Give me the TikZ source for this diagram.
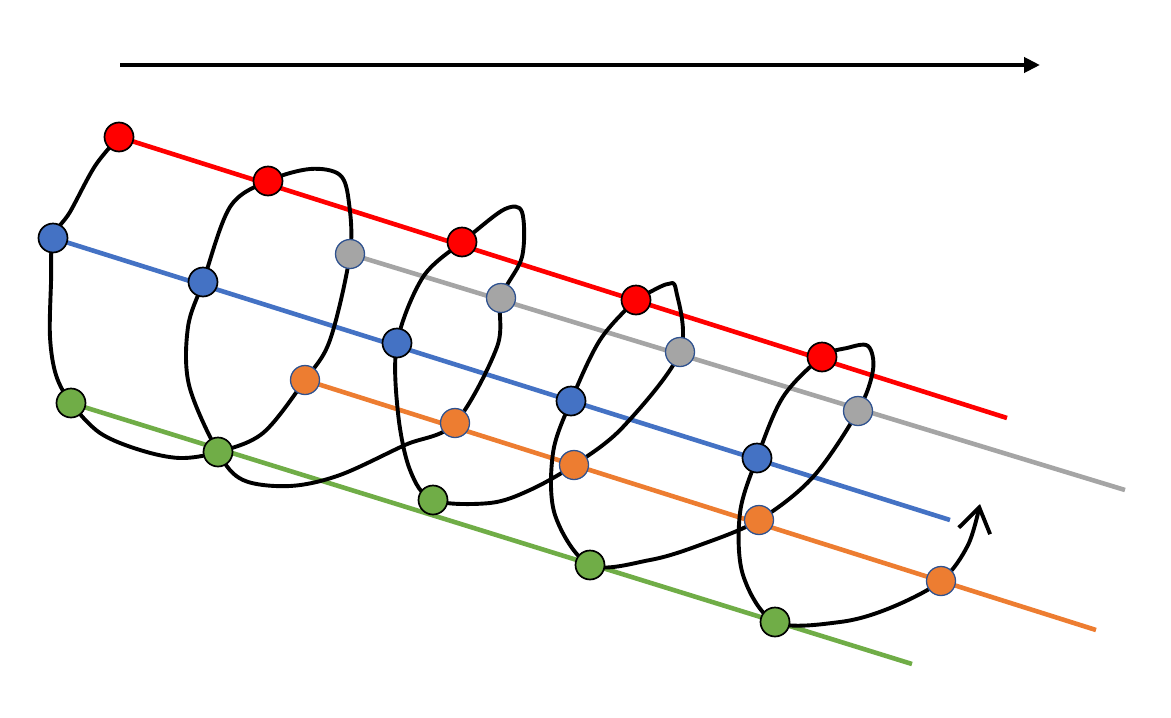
\documentclass[tikz,border=0pt]{standalone}
\usetikzlibrary{arrows.meta,backgrounds}
\definecolor{myred}{HTML}{FF0000}
\definecolor{myblue}{HTML}{4472C4}
\definecolor{mygray}{HTML}{A5A5A5}
\definecolor{myorange}{HTML}{ED7D31}
\definecolor{mygreen}{HTML}{70AD47}
\definecolor{rim}{HTML}{2F528F}

\begin{document}
\begin{tikzpicture}[x=1pt, y=-1pt,
	dot/.style={circle, draw=black, line width=1.7pt, minimum size=29pt, inner sep=0pt},
	softdot/.style={dot, draw=rim, line width=1.3pt},
	track/.style={line width=4.6pt},
	spiral/.style={line width=3.9pt, line join=round, line cap=round}]

	\useasboundingbox (0,0) rectangle (1171,718);

	\coordinate (axisstart) at (120,65);
	\coordinate (axisend) at (1040,65);
	\draw[line width=4.3pt, -{Triangle[length=16pt,width=15pt]}] (axisstart) -- (axisend);

	\node[dot, fill=myred] (red1) at (119,137) {};
	\node[dot, fill=myred] (red2) at (268,181) {};
	\node[dot, fill=myred] (red3) at (462,242) {};
	\node[dot, fill=myred] (red4) at (636,300) {};
	\node[dot, fill=myred] (red5) at (822,357) {};

	\node[softdot, fill=mygray] (gray1) at (350,254) {};
	\node[softdot, fill=mygray] (gray2) at (501,298) {};
	\node[softdot, fill=mygray] (gray3) at (680,352) {};
	\node[softdot, fill=mygray] (gray4) at (858,411) {};

	\node[dot, fill=myblue] (blue1) at (53,238) {};
	\node[dot, fill=myblue] (blue2) at (203,282) {};
	\node[dot, fill=myblue] (blue3) at (397,343) {};
	\node[dot, fill=myblue] (blue4) at (571,401) {};
	\node[dot, fill=myblue] (blue5) at (757,458) {};

	\node[softdot, fill=myorange] (orange1) at (305,380) {};
	\node[softdot, fill=myorange] (orange2) at (455,423) {};
	\node[softdot, fill=myorange] (orange3) at (574,465) {};
	\node[softdot, fill=myorange] (orange4) at (759,520) {};
	\node[softdot, fill=myorange] (orange5) at (941,581) {};

	\node[dot, fill=mygreen] (green1) at (71,403) {};
	\node[dot, fill=mygreen] (green2) at (218,452) {};
	\node[dot, fill=mygreen] (green3) at (433,500) {};
	\node[dot, fill=mygreen] (green4) at (590,565) {};
	\node[dot, fill=mygreen] (green5) at (775,622) {};

	\coordinate (redend) at (1007,418);
	\coordinate (grayend) at (1125,490);
	\coordinate (blueend) at (950,520);
	\coordinate (orangeend) at (1096,630);
	\coordinate (greenend) at (912,664);
	\coordinate (tip) at (980,504);

	\begin{pgfonlayer}{background}
		\draw[track, myred] (red1.center) -- (redend);
		\draw[track, mygray] (gray1.center) -- (grayend);
		\draw[track, myblue] (blue1.center) -- (blueend);
		\draw[track, myorange] (orange1.center) -- (orangeend);
		\draw[track, mygreen] (green1.center) -- (greenend);

		\draw[spiral, -{Straight Barb[length=24pt,width=32pt]}] plot[smooth, tension=0.55] coordinates {
			(red1.center) (95,166) (70,212) (blue1.center) (51,283) (50,337) (56,375)
			(green1.center) (100,433) (140,450) (180,458) (green2.center) (263,433)
			(orange1.center) (330,340) (gray1.center) (349,203) (340,175) (310,169)
			(red2.center) (230,207) (blue2.center) (188,327) (189,385) (green2.center)
			(243,480) (290,486) (340,475) (405,445) (orange2.center) (497,347)
			(gray2.center) (522,257) (522,212) (505,209) (473,233) (red3.center)
			(423,277) (blue3.center) (398,413) (410,470) (green3.center) (490,503)
			(530,490) (orange3.center) (623,427) (gray3.center) (676,290) (668,284)
			(650,292) (red4.center) (600,340) (blue4.center) (553,453) (555,515)
			(green4.center) (650,560) (700,545) (orange4.center) (813,477)
			(gray4.center) (873,370) (868,346) (847,348) (red5.center) (783,397)
			(blue5.center) (740,513) (743,575) (green5.center) (840,622) (890,608)
			(orange5.center) (968,545) (tip)};
	\end{pgfonlayer}

\end{tikzpicture}
\end{document}
